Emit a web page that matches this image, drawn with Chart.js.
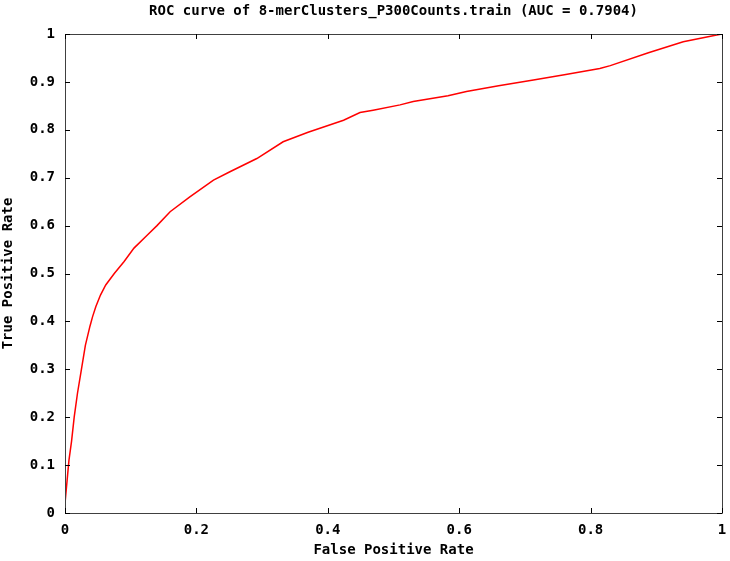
<!DOCTYPE html>
<html>
<head>
<meta charset="utf-8">
<script src="https://cdn.jsdelivr.net/npm/chart.js@4/dist/chart.umd.min.js"></script>
<style>
html,body{margin:0;padding:0;background:#fff;}
#wrap{width:730px;height:561px;position:relative;}
</style>
</head>
<body>
<div id="wrap"><canvas id="c" width="730" height="561"></canvas></div>
<script>
const chartTitle = "ROC curve of 8-merClusters_P300Counts.train (AUC = 0.7904)";
const xLabel = "False Positive Rate";
const yLabel = "True Positive Rate";
const fpr = [0, 0.002, 0.004, 0.006, 0.010, 0.014, 0.019, 0.025, 0.031, 0.038, 0.042, 0.047, 0.054, 0.062, 0.075, 0.090, 0.105, 0.125, 0.140, 0.160, 0.190, 0.226, 0.251, 0.292, 0.332, 0.370, 0.424, 0.449, 0.469, 0.510, 0.530, 0.583, 0.611, 0.660, 0.713, 0.760, 0.814, 0.830, 0.888, 0.941, 0.992, 1.0];
const tpr = [0.02, 0.05, 0.08, 0.11, 0.15, 0.20, 0.25, 0.30, 0.35, 0.39, 0.41, 0.431, 0.455, 0.476, 0.500, 0.525, 0.553, 0.580, 0.600, 0.629, 0.660, 0.695, 0.7125, 0.740, 0.775, 0.795, 0.820, 0.836, 0.841, 0.852, 0.859, 0.871, 0.880, 0.892, 0.904, 0.915, 0.928, 0.934, 0.961, 0.984, 0.998, 1.0];

const FONT = "'DejaVu Sans Mono', 'Liberation Mono', monospace";
const points = fpr.map((v, i) => ({x: v, y: tpr[i]}));
const fmt = v => String(Number(v.toFixed(1)));

const framePlugin = {
  id: 'frame',
  afterDraw(chart) {
    const ctx = chart.ctx;
    const a = chart.chartArea;
    const xs = chart.scales.x, ys = chart.scales.y;
    ctx.save();
    ctx.strokeStyle = '#404040';
    ctx.lineWidth = 1;
    ctx.beginPath();
    ctx.rect(Math.round(a.left) + 0.5, Math.round(a.top) + 0.5, Math.round(a.right - a.left), Math.round(a.bottom - a.top));
    ctx.stroke();
    ctx.strokeStyle = '#000';
    ctx.beginPath();
    const len = 5;
    xs.ticks.forEach(t => {
      const px = Math.round(xs.getPixelForValue(t.value)) + 0.5;
      ctx.moveTo(px, a.bottom); ctx.lineTo(px, a.bottom - len);
      ctx.moveTo(px, a.top); ctx.lineTo(px, a.top + len);
    });
    ys.ticks.forEach(t => {
      const py = Math.round(ys.getPixelForValue(t.value)) + 0.5;
      ctx.moveTo(a.left, py); ctx.lineTo(a.left + len, py);
      ctx.moveTo(a.right, py); ctx.lineTo(a.right - len, py);
    });
    ctx.stroke();
    ctx.fillStyle = '#000';
    ctx.font = "bold 14px " + FONT;
    ctx.textAlign = 'center';
    ctx.textBaseline = 'middle';
    ctx.fillText(chartTitle, (a.left + a.right) / 2, 11);
    ctx.restore();
  }
};

new Chart(document.getElementById('c'), {
  type: 'scatter',
  data: {
    datasets: [{
      data: points,
      showLine: true,
      borderColor: '#ff0000',
      borderWidth: 1.5,
      pointRadius: 0,
      tension: 0,
      fill: false
    }]
  },
  options: {
    responsive: false,
    animation: false,
    events: [],
    layout: {padding: {top: 34, right: 8, left: 0, bottom: 0}},
    plugins: {legend: {display: false}, tooltip: {enabled: false}, title: {display: false}},
    scales: {
      x: {
        type: 'linear', min: 0, max: 1,
        border: {display: false},
        grid: {display: false, drawTicks: false},
        ticks: {stepSize: 0.2, color: '#000', padding: 9, font: {family: FONT, size: 14, weight: 'bold'}, maxRotation: 0, callback: v => fmt(v)},
        title: {display: true, text: xLabel, color: '#000', padding: {top: 0, bottom: 2}, font: {family: FONT, size: 14, weight: 'bold'}},
        afterFit(s) { s.height = 48; s.paddingLeft = 0; s.paddingRight = 0; }
      },
      y: {
        type: 'linear', min: 0, max: 1,
        border: {display: false},
        grid: {display: false, drawTicks: false},
        ticks: {stepSize: 0.1, color: '#000', padding: 10, font: {family: FONT, size: 14, weight: 'bold'}, callback: v => fmt(v)},
        title: {display: true, text: yLabel, color: '#000', padding: {top: 0, bottom: 0}, font: {family: FONT, size: 14, weight: 'bold'}},
        afterFit(s) { s.width = 65; s.paddingTop = 0; s.paddingBottom = 0; }
      }
    }
  },
  plugins: [framePlugin]
});
</script>
</body>
</html>
